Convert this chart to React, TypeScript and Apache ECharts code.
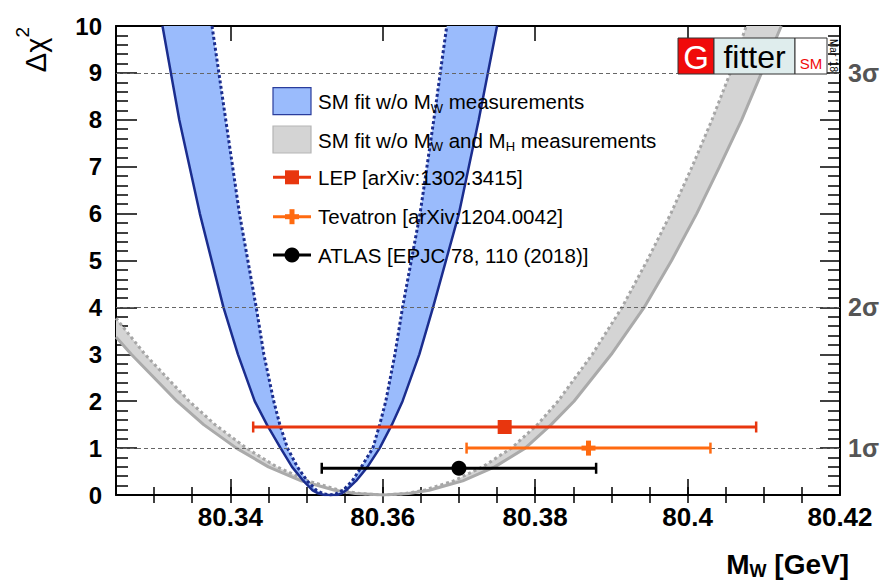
import React, { useEffect, useRef } from 'react';
import * as echarts from 'echarts';

const FONT = '"Liberation Sans", Arial, Helvetica, sans-serif';

// Δχ² profile of the SM fit w/o M_W measurements (blue band): solid outer and dotted inner curve
const blueSolid: [number, number][] = [
  [80.3311, 10], [80.3333, 8], [80.3360, 6], [80.3391, 4], [80.3410, 3], [80.3432, 2],
  [80.3448, 1.5], [80.3466, 1], [80.3481, 0.6], [80.3496, 0.3], [80.3508, 0.1], [80.3516, 0.03],
  [80.3524, 0], [80.3540, 0], [80.3546, 0.03], [80.3552, 0.1], [80.3565, 0.3], [80.3580, 0.6],
  [80.3596, 1], [80.3612, 1.5], [80.3626, 2], [80.3648, 3], [80.3666, 4], [80.3700, 6],
  [80.3726, 8], [80.3750, 10],
];
const blueDotted: [number, number][] = [
  [80.3376, 10], [80.3394, 8], [80.3412, 6], [80.3434, 4], [80.3444, 3], [80.3457, 2],
  [80.3465, 1.5], [80.3475, 1], [80.3488, 0.6], [80.3501, 0.3], [80.3513, 0.1], [80.3523, 0.02],
  [80.3531, 0], [80.3538, 0.02], [80.3548, 0.1], [80.3560, 0.3], [80.3572, 0.6], [80.3587, 1],
  [80.3596, 1.5], [80.3604, 2], [80.3616, 3], [80.3626, 4], [80.3649, 6], [80.3667, 8],
  [80.3684, 10],
];
// SM fit w/o M_W and M_H measurements (grey band)
const graySolid: [number, number][] = [
  [80.3250, 3.37], [80.3270, 3], [80.3330, 2], [80.3365, 1.5], [80.3408, 1], [80.3450, 0.6],
  [80.3493, 0.3], [80.3537, 0.1], [80.3564, 0.03], [80.3601, 0], [80.3634, 0.03], [80.3661, 0.1],
  [80.3705, 0.3], [80.3747, 0.6], [80.3787, 1], [80.3821, 1.5], [80.3851, 2], [80.3900, 3],
  [80.3943, 4], [80.3979, 5], [80.4012, 6], [80.4042, 7], [80.4071, 8], [80.4097, 9], [80.4123, 10],
];
const grayDotted: [number, number][] = [
  [80.3250, 3.77], [80.3288, 3], [80.3346, 2], [80.3380, 1.5], [80.3421, 1], [80.3461, 0.6],
  [80.3502, 0.3], [80.3544, 0.1], [80.3570, 0.03], [80.3601, 0], [80.3630, 0.03], [80.3654, 0.1],
  [80.3693, 0.3], [80.3731, 0.6], [80.3769, 1], [80.3803, 1.5], [80.3830, 2], [80.3875, 3],
  [80.3914, 4], [80.3947, 5], [80.3978, 6], [80.4006, 7], [80.4032, 8], [80.4056, 9], [80.4077, 10],
];

// Direct measurements
const measNames = ['LEP [arXiv:1302.3415]', 'Tevatron [arXiv:1204.0042]', 'ATLAS [EPJC 78, 110 (2018)]'];
const measCenter = [80.376, 80.387, 80.370];
const measLow = [80.343, 80.371, 80.352];
const measHigh = [80.409, 80.403, 80.388];
const measY = [1.45, 1.0, 0.57];
const measColor = ['#e8360e', '#ff6a10', '#000000'];
const measMarker = ['square', 'plus', 'circle'];

// Axes
const X_MIN = 80.325;
const X_MAX = 80.42;
const xMajor = [80.34, 80.36, 80.38, 80.4, 80.42];
const xMinor = [80.33, 80.335, 80.34, 80.345, 80.35, 80.355, 80.36, 80.365, 80.37, 80.375,
  80.38, 80.385, 80.39, 80.395, 80.4, 80.405, 80.41, 80.415];
const sigmaLevels = [1, 4, 9];
const sigmaLabels = ['1σ', '2σ', '3σ'];

const axisLineStyle = { color: '#000', width: 2 };
const tickStyle = { color: '#000', width: 1.5 };

function markerShapes(kind: string, cx: number, cy: number, color: string, s = 1): any[] {
  if (kind === 'square') {
    return [{ type: 'rect', shape: { x: cx - 7 * s, y: cy - 7 * s, width: 14 * s, height: 14 * s }, style: { fill: color } }];
  }
  if (kind === 'plus') {
    return [
      { type: 'rect', shape: { x: cx - 2.5, y: cy - 7.5 * s, width: 5, height: 15 * s }, style: { fill: color } },
      { type: 'rect', shape: { x: cx - 7 * s, y: cy - 2.5, width: 14 * s, height: 5 }, style: { fill: color } },
    ];
  }
  return [{ type: 'circle', shape: { cx, cy, r: 7.5 * s }, style: { fill: color } }];
}

function bandRenderer(outer: [number, number][], inner: [number, number][], color: string) {
  return (params: any, api: any) => {
    if (params.dataIndex !== 0) return null;
    const pts = outer.concat(inner.slice().reverse()).map((p) => api.coord(p));
    return { type: 'polygon', shape: { points: pts }, style: { fill: color }, silent: true };
  };
}

function withZ(el: any, z: number): any {
  const out = { ...el, z };
  if (el.children) out.children = el.children.map((c: any) => withZ(c, z));
  return out;
}

function txt(x: number, y: number, text: string, style: any, extra: any = {}) {
  const align = style.align || 'left';
  const va = style.verticalAlign || 'middle';
  return {
    type: 'text', x, y, ...extra,
    style: { fontFamily: FONT, fill: '#000', ...style, text, align, textAlign: align, verticalAlign: va, textVerticalAlign: va },
  };
}

function buildOption(): any {
  const legendX = 273;
  const legendW = 38;
  const textX = 318;
  const rowY = [101.7, 140, 177.3, 216.7, 255];
  const richMain = { fontSize: 20.5, fontFamily: FONT, fill: '#000', color: '#000', lineHeight: 26 };
  const richSub = { fontSize: 13, fontFamily: FONT, fill: '#000', color: '#000', lineHeight: 13, verticalAlign: 'bottom' };

  const graphics: any[] = [];
  // Legend: bands
  graphics.push({ type: 'rect', shape: { x: legendX, y: rowY[0] - 14, width: legendW, height: 27 }, style: { fill: '#9abbfc', stroke: '#2a3d9c', lineWidth: 1.2 } });
  graphics.push({ type: 'rect', shape: { x: legendX, y: rowY[1] - 14, width: legendW, height: 27 }, style: { fill: '#d4d4d4', stroke: '#b5b5b5', lineWidth: 1.2 } });
  graphics.push(txt(textX, rowY[0], '{a|SM fit w/o M}{s|W}{a| measurements}', { rich: { a: richMain, s: richSub } }));
  graphics.push(txt(textX, rowY[1], '{a|SM fit w/o M}{s|W}{a| and M}{s|H}{a| measurements}', { rich: { a: richMain, s: richSub } }));
  // Legend: measurements
  measNames.forEach((name, i) => {
    const y = rowY[2 + i];
    graphics.push({ type: 'line', shape: { x1: legendX, y1: y, x2: legendX + legendW, y2: y }, style: { stroke: measColor[i], lineWidth: 3 } });
    markerShapes(measMarker[i], legendX + legendW / 2, y, measColor[i]).forEach((m) => graphics.push(m));
    graphics.push(txt(textX, y, name, { fontSize: 20.5 }));
  });

  // Axis titles
  graphics.push(txt(849, 564, '{m|M}{s|W}{m| [GeV]}', {
    align: 'right',
    rich: {
      m: { fontSize: 28, fontWeight: 'bold', fontFamily: FONT, fill: '#000', color: '#000', lineHeight: 32 },
      s: { fontSize: 18, fontWeight: 'bold', fontFamily: FONT, fill: '#000', color: '#000', lineHeight: 18, verticalAlign: 'bottom' },
    },
  }));
  graphics.push(txt(36, 27, '{m|Δχ}{p|2}', {
    align: 'right',
    rich: {
      m: { fontSize: 29, fontFamily: FONT, fill: '#000', color: '#000', lineHeight: 46 },
      p: { fontSize: 19, fontFamily: FONT, fill: '#000', color: '#000', lineHeight: 14, verticalAlign: 'top' },
    },
  }, { rotation: Math.PI / 2 }));

  // Gfitter logo
  graphics.push({ type: 'rect', shape: { x: 678, y: 38, width: 36, height: 36 }, style: { fill: '#f00a0a', stroke: '#333', lineWidth: 1 } });
  graphics.push({ type: 'rect', shape: { x: 714, y: 38, width: 81, height: 36 }, style: { fill: '#dfeded', stroke: '#333', lineWidth: 1 } });
  graphics.push({ type: 'rect', shape: { x: 795, y: 38, width: 32, height: 36 }, style: { fill: '#ffffff', stroke: '#333', lineWidth: 1 } });
  graphics.push(txt(696, 57, 'G', { fontSize: 33, fill: '#ffffff', align: 'center' }));
  graphics.push(txt(754.5, 57, 'fitter', { fontSize: 32, fill: '#000', align: 'center' }));
  graphics.push(txt(811, 63, 'SM', { fontSize: 15, fill: '#f00a0a', align: 'center' }));
  graphics.push(txt(833, 39, "Mar '18", { fontSize: 10, fill: '#000', align: 'left' }, { rotation: -Math.PI / 2 }));

  const lineSeries = (data: [number, number][], color: string, type: any, width: number, z: number, extra: any = {}) => ({
    type: 'line', data, showSymbol: false, symbol: 'none', silent: true, z, clip: true,
    lineStyle: { color, width, type }, ...extra,
  });

  return {
    animation: false,
    backgroundColor: '#ffffff',
    grid: { left: 116, right: 30, top: 26, bottom: 88, containLabel: false },
    xAxis: [
      {
        type: 'value', min: X_MIN, max: X_MAX, position: 'bottom',
        axisLine: { show: true, onZero: false, lineStyle: axisLineStyle },
        axisTick: { show: true, inside: true, length: 16, customValues: xMajor, lineStyle: tickStyle },
        axisLabel: { show: true, customValues: xMajor, formatter: (v: number) => String(v), fontFamily: FONT, fontWeight: 'bold', fontSize: 26, color: '#000', margin: 9 },
        splitLine: { show: false },
      },
      {
        type: 'value', min: X_MIN, max: X_MAX, position: 'bottom',
        axisLine: { show: false }, axisLabel: { show: false }, splitLine: { show: false },
        axisTick: { show: true, inside: true, length: 8, customValues: xMinor, lineStyle: tickStyle },
      },
      {
        type: 'value', min: X_MIN, max: X_MAX, position: 'top',
        axisLine: { show: true, onZero: false, lineStyle: axisLineStyle },
        axisTick: { show: true, inside: true, length: 15, customValues: xMajor, lineStyle: tickStyle },
        axisLabel: { show: false }, splitLine: { show: false },
      },
      {
        type: 'value', min: X_MIN, max: X_MAX, position: 'top',
        axisLine: { show: false }, axisLabel: { show: false }, splitLine: { show: false },
        axisTick: { show: true, inside: true, length: 8, customValues: xMinor, lineStyle: tickStyle },
      },
    ],
    yAxis: [
      {
        type: 'value', min: 0, max: 10, interval: 1, position: 'left',
        axisLine: { show: true, onZero: false, lineStyle: axisLineStyle },
        axisTick: { show: true, inside: true, length: 21, lineStyle: tickStyle },
        minorTick: { show: true, splitNumber: 5, length: 12, lineStyle: tickStyle },
        axisLabel: { fontFamily: FONT, fontWeight: 'bold', fontSize: 24, color: '#000', margin: 14 },
        splitLine: { show: false }, minorSplitLine: { show: false },
      },
      {
        type: 'value', min: 0, max: 10, interval: 1, position: 'right',
        axisLine: { show: true, onZero: false, lineStyle: axisLineStyle },
        axisTick: { show: true, inside: true, length: 20, lineStyle: tickStyle },
        minorTick: { show: true, splitNumber: 5, length: 12, lineStyle: tickStyle },
        axisLabel: {
          customValues: sigmaLevels,
          formatter: (v: number) => sigmaLabels[sigmaLevels.indexOf(v)] || '',
          fontFamily: FONT, fontWeight: 'bold', fontSize: 25, color: '#555', margin: 8,
        },
        splitLine: { show: false }, minorSplitLine: { show: false },
      },
    ],
    series: [
      {
        type: 'custom', name: 'grayBand', data: [graySolid[0]], encode: { x: 0, y: 1 }, clip: true, z: 1, silent: true,
        renderItem: bandRenderer(graySolid, grayDotted, '#d4d4d4'),
      },
      lineSeries(grayDotted, '#a6a6a6', [3, 3], 3, 2),
      lineSeries(graySolid, '#aaaaaa', 'solid', 3, 2),
      {
        type: 'custom', name: 'blueBand', data: [blueSolid[0]], encode: { x: 0, y: 1 }, clip: true, z: 3, silent: true,
        renderItem: bandRenderer(blueSolid, blueDotted, '#9abbfc'),
      },
      lineSeries(blueDotted, '#1b2d8e', [3, 2.5], 3, 4),
      lineSeries(blueSolid, '#1b2d8e', 'solid', 2.5, 4),
      {
        type: 'line', name: 'sigmaLines', data: [], z: 5, silent: true,
        markLine: {
          silent: true, symbol: ['none', 'none'], label: { show: false },
          lineStyle: { color: '#666', type: [4, 3], width: 1 },
          data: sigmaLevels.map((v) => ({ yAxis: v })),
        },
      },
      {
        type: 'custom', name: 'measurements', z: 6, silent: true, clip: false,
        data: measCenter.map((c, i) => [c, measY[i], measLow[i], measHigh[i], i]),
        encode: { x: 0, y: 1 },
        renderItem: (params: any, api: any) => {
          const i = api.value(4);
          const y = api.value(1);
          const c = api.coord([api.value(0), y]);
          const lo = api.coord([api.value(2), y]);
          const hi = api.coord([api.value(3), y]);
          const color = measColor[i];
          const children: any[] = [
            { type: 'line', shape: { x1: lo[0], y1: lo[1], x2: hi[0], y2: hi[1] }, style: { stroke: color, lineWidth: 3 } },
            { type: 'line', shape: { x1: lo[0], y1: lo[1] - 5.5, x2: lo[0], y2: lo[1] + 5.5 }, style: { stroke: color, lineWidth: 2.5 } },
            { type: 'line', shape: { x1: hi[0], y1: hi[1] - 5.5, x2: hi[0], y2: hi[1] + 5.5 }, style: { stroke: color, lineWidth: 2.5 } },
            ...markerShapes(measMarker[i], c[0], c[1], color),
          ];
          return { type: 'group', children };
        },
      },
    ],
    graphic: { elements: graphics.map((g) => withZ(g, 100)) },
  };
}

export default function App() {
  const ref = useRef<HTMLDivElement>(null);
  useEffect(() => {
    if (!ref.current) return;
    const chart = echarts.init(ref.current, undefined, { renderer: 'svg' });
    chart.setOption(buildOption());
    return () => chart.dispose();
  }, []);
  return (
    <div
      ref={ref}
      style={{ position: 'absolute', left: 0, top: 0, width: 882, height: 583, background: '#fff' }}
    />
  );
}
